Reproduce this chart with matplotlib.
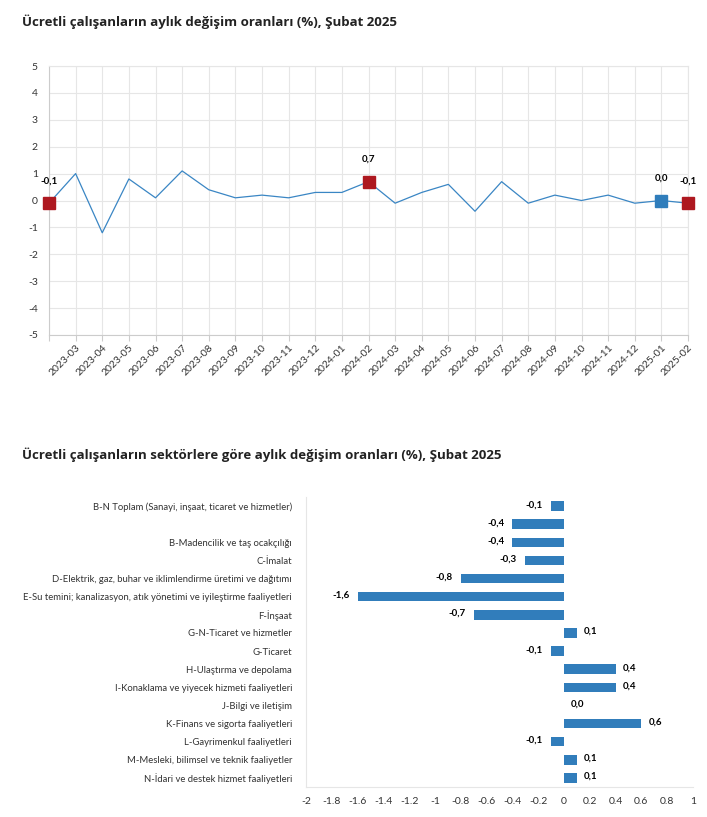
import matplotlib
matplotlib.use("Agg")
import matplotlib.pyplot as plt
import numpy as np

plt.rcParams['font.family'] = ['Open Sans', 'DejaVu Sans']

# ---- data ----
months = ["2023-02", "2023-03", "2023-04", "2023-05", "2023-06", "2023-07", "2023-08",
          "2023-09", "2023-10", "2023-11", "2023-12", "2024-01", "2024-02", "2024-03",
          "2024-04", "2024-05", "2024-06", "2024-07", "2024-08", "2024-09", "2024-10",
          "2024-11", "2024-12", "2025-01", "2025-02"]
month_values = [-0.1, 1.0, -1.2, 0.8, 0.1, 1.1, 0.4, 0.1, 0.2, 0.1, 0.3, 0.3, 0.7, -0.1,
                0.3, 0.6, -0.4, 0.7, -0.1, 0.2, 0.0, 0.2, -0.1, 0.0, -0.1]
red_marked = ["2023-02", "2024-02", "2025-02"]
blue_marked = ["2025-01"]
y_ticks = [-5, -4, -3, -2, -1, 0, 1, 2, 3, 4, 5]

sectors = ["B-N Toplam (Sanayi, inşaat, ticaret ve hizmetler)",
           "",
           "B-Madencilik ve taş ocakçılığı",
           "C-İmalat",
           "D-Elektrik, gaz, buhar ve iklimlendirme üretimi ve dağıtımı",
           "E-Su temini; kanalizasyon, atık yönetimi ve iyileştirme faaliyetleri",
           "F-İnşaat",
           "G-N-Ticaret ve hizmetler",
           "G-Ticaret",
           "H-Ulaştırma ve depolama",
           "I-Konaklama ve yiyecek hizmeti faaliyetleri",
           "J-Bilgi ve iletişim",
           "K-Finans ve sigorta faaliyetleri",
           "L-Gayrimenkul faaliyetleri",
           "M-Mesleki, bilimsel ve teknik faaliyetler",
           "N-İdari ve destek hizmet faaliyetleri"]
sector_values = [-0.1, -0.4, -0.4, -0.3, -0.8, -1.6, -0.7, 0.1, -0.1, 0.4, 0.4, 0.0, 0.6, -0.1, 0.1, 0.1]
x_ticks = [-2, -1.8, -1.6, -1.4, -1.2, -1, -0.8, -0.6, -0.4, -0.2, 0, 0.2, 0.4, 0.6, 0.8, 1]

LINE = "#3a86c4"
BAR = "#317dbb"
RED = "#ae1820"
BLUE = "#2f7dbb"
TXT = "#333333"
GRID = "#e6e6e6"
SPINE = "#cccccc"
TICKFONT = ['Lato', 'DejaVu Sans']

def fmt(v):
    return f"{v:.1f}".replace(".", ",")

W, H = 707, 817
fig = plt.figure(figsize=(W / 100, H / 100), dpi=100)
fig.patch.set_facecolor("white")

# ---- top line chart ----
ax1 = fig.add_axes([49 / W, 1 - 335 / H, (688 - 49) / W, (335 - 66) / H])
x = np.arange(len(months))
ax1.plot(x, month_values, color=LINE, lw=0.9, zorder=3)
for i, m in enumerate(months):
    if m in red_marked or m in blue_marked:
        c = RED if m in red_marked else BLUE
        ax1.plot(x[i], month_values[i], marker="s", ms=8.5, color=c, zorder=4, clip_on=False)
        ax1.annotate(fmt(month_values[i]), (x[i], month_values[i]), xytext=(0, 13),
                     textcoords="offset points", ha="center", va="bottom",
                     fontsize=7, fontweight="bold", color="black", zorder=5,
                     family=TICKFONT)
ax1.set_xlim(0, len(months) - 1)
ax1.set_ylim(-5, 5)
ax1.set_yticks(y_ticks)
ax1.set_yticklabels([str(t) for t in y_ticks], fontsize=7.5, color=TXT, family=TICKFONT)
ax1.set_xticks(x)
ax1.set_xticklabels([""] + months[1:], rotation=45, ha="right", rotation_mode="anchor",
                    fontsize=7.5, color=TXT, family=TICKFONT)
ax1.grid(True, color=GRID, lw=0.8)
ax1.set_axisbelow(True)
for s in ["top", "right"]:
    ax1.spines[s].set_color(GRID)
for s in ["left", "bottom"]:
    ax1.spines[s].set_color(SPINE)
ax1.tick_params(axis="y", length=0, pad=8)
ax1.tick_params(axis="x", length=4, color=SPINE, pad=2)

fig.text(22 / W, 1 - 22 / H, "Ücretli çalışanların aylık değişim oranları (%), Şubat 2025",
         fontsize=9.5, fontweight="bold", color="#222222", va="center", ha="left")

# ---- bottom bar chart ----
ax2 = fig.add_axes([306 / W, 1 - 787 / H, (693 - 306) / W, (787 - 497) / H])
y = np.arange(len(sectors))
ax2.barh(y, sector_values, height=0.52, color=BAR, zorder=3)
for i, v in enumerate(sector_values):
    if v < 0:
        ax2.annotate(fmt(v), (v, y[i]), xytext=(-6, 1), textcoords="offset points",
                     ha="right", va="center", fontsize=7, fontweight="bold", color="black",
                     family=TICKFONT)
    else:
        ax2.annotate(fmt(v), (v, y[i]), xytext=(5, 1), textcoords="offset points",
                     ha="left", va="center", fontsize=7, fontweight="bold", color="black",
                     family=TICKFONT)
ax2.set_ylim(len(sectors) - 0.5, -0.5)
ax2.set_xlim(-2, 1)
ax2.set_yticks(y)
ax2.set_yticklabels(sectors, fontsize=6.8, color=TXT, family=TICKFONT)
ax2.set_xticks(x_ticks)
ax2.set_xticklabels([f"{t:g}" for t in x_ticks], fontsize=7.5, color=TXT, family=TICKFONT)
for s in ["top", "right"]:
    ax2.spines[s].set_visible(False)
for s in ["left", "bottom"]:
    ax2.spines[s].set_color(GRID)
ax2.tick_params(axis="y", length=0, pad=10)
ax2.tick_params(axis="x", length=0, pad=7)

fig.text(22 / W, 1 - 455 / H, "Ücretli çalışanların sektörlere göre aylık değişim oranları (%), Şubat 2025",
         fontsize=9.5, fontweight="bold", color="#222222", va="center", ha="left")

fig.savefig("out.png", dpi=100, facecolor="white")
